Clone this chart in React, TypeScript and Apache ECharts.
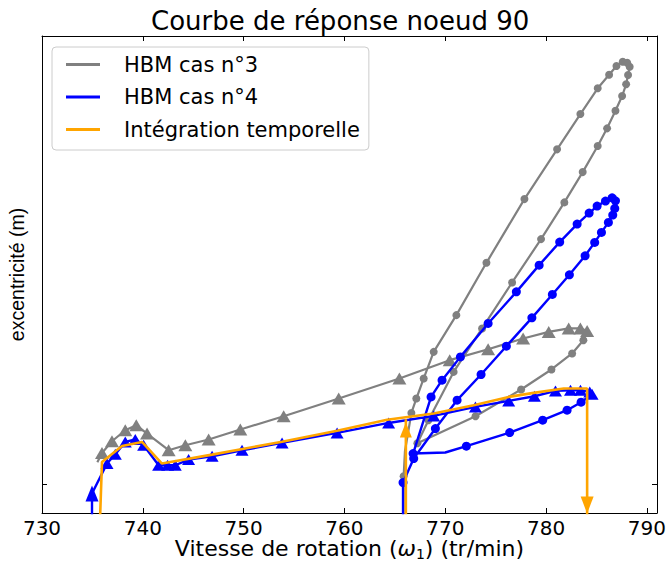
import React, { useEffect, useRef } from "react";
import * as echarts from "echarts";

// ---- axis ticks ----
const xTicks = [730, 740, 750, 760, 770, 780, 790];
const yTicks = [0];

// ---- HBM cas n°3 (gray) : lower branch (triangles) then loop (circles) ----
const g3TriX = [735.49, 735.95, 736.94, 738.26, 739.35, 740.42, 742.56, 744.22, 746.53, 749.67, 753.97, 759.43, 765.45, 770.44, 774.25, 777.72, 780.26, 782.24, 783.40, 784.07];
const g3TriY = [4.7, 6.65, 9.10, 11.41, 12.47, 10.72, 7.22, 8.26, 9.46, 11.56, 14.35, 18.06, 22.26, 26.10, 28.40, 30.65, 32.03, 32.75, 32.75, 32.24];
const g3CircX = [783.70, 782.58, 780.53, 777.52, 773.00, 767.23, 768.33, 770.83, 773.65, 776.63, 779.50, 781.81, 783.63, 785.12, 786.05, 786.88, 787.54, 787.94, 788.13, 788.29, 788.04, 787.60, 786.98, 786.25, 785.12, 783.40, 781.09, 777.85, 774.08, 771.10, 768.85, 767.86, 767.13, 766.64, 766.0, 765.87, 765.85];
const g3CircY = [30.29, 27.50, 24.15, 19.95, 14.35, 8.68, 13.51, 23.64, 32.75, 42.40, 51.48, 59.18, 65.53, 70.99, 74.70, 78.39, 81.48, 83.93, 85.88, 87.62, 88.46, 88.67, 87.77, 85.95, 83.09, 77.70, 70.30, 59.87, 46.51, 35.54, 27.84, 22.26, 18.06, 15.04, 7.0, 1.76, -10];
const g3Unmarked = [0, 54];

// ---- HBM cas n°4 (blue) ----
const b4TriX = [734.96, 734.96, 736.45, 737.27, 738.26, 739.25, 740.08, 741.57, 742.46, 743.22, 744.54, 746.87, 749.84, 753.81, 759.27, 764.38, 768.85, 772.99, 776.29, 778.84, 780.93, 782.42, 783.41, 784.33, 784.56];
const b4TriY = [-10, -1.87, 4.43, 6.38, 8.96, 9.46, 8.27, 4.07, 4.07, 4.07, 5.27, 5.96, 7.22, 8.75, 10.85, 12.94, 14.41, 16.30, 17.56, 18.54, 19.66, 19.80, 19.80, 19.45, 18.96];
const b4CircX = [783.47, 782.08, 779.66, 776.39, 772.09, 770.0, 766.81, 768.59, 769.68, 771.50, 774.25, 777.05, 779.31, 781.35, 783.08, 784.27, 785.06, 785.89, 786.55, 786.88, 786.81, 786.61, 786.18, 785.49, 784.82, 783.87, 782.31, 780.62, 778.59, 776.06, 773.55, 771.17, 769.02, 766.87, 765.81, 765.81];
const b4CircY = [17.29, 15.61, 13.51, 10.93, 8.06, 6.74, 6.52, 18.40, 21.90, 26.79, 33.80, 40.42, 46.02, 50.85, 54.63, 56.93, 58.40, 59.45, 60.14, 59.51, 57.92, 56.51, 54.98, 52.88, 50.79, 47.98, 43.99, 39.88, 34.97, 29.03, 23.10, 17.71, 11.77, 5.48, 0.44, -10];
const b4Unmarked = [30];

// ---- Intégration temporelle (orange) ----
const orX = [735.71, 735.95, 737.94, 739.92, 741.90, 746.87, 753.81, 759.27, 764.23, 768.85, 772.82, 776.29, 778.77, 781.75, 783.90, 784.07, 784.07, 784.07];
const orY = [-10, 4.76, 8.12, 8.96, 4.43, 6.3, 9.0, 11.3, 13.6, 14.92, 16.66, 18.40, 19.24, 20.16, 20.16, 20.16, -4.26, -10];
const orDownArrowIdx = 16;
const orJumpX = [766.09, 766.09, 766.09];
const orJumpY = [-10, 11.48, 13.72];
const orUpArrowIdx = 1;

const Y_MIN = -5.94;
const Y_MAX = 94.06;

const GRAY = "#808080";
const BLUE = "#0000ff";
const ORANGE = "#ffa500";

function buildBranch(
  triX: number[], triY: number[], circX: number[], circY: number[],
  unmarked: number[], triSize: number[], circSize: number
) {
  const out: any[] = [];
  triX.forEach((x, i) => {
    const idx = out.length;
    const hidden = triY[i] < Y_MIN || unmarked.includes(idx);
    out.push({ value: [x, triY[i]], symbol: hidden ? "none" : "triangle", symbolSize: triSize });
  });
  circX.forEach((x, i) => {
    const idx = out.length;
    const hidden = circY[i] < Y_MIN || unmarked.includes(idx);
    out.push({ value: [x, circY[i]], symbol: hidden ? "none" : "circle", symbolSize: circSize });
  });
  return out;
}

export default function App() {
  const ref = useRef<HTMLDivElement>(null);
  useEffect(() => {
    if (!ref.current) return;
    const chart = echarts.init(ref.current, undefined, { renderer: "svg" });

    const grayData = buildBranch(g3TriX, g3TriY, g3CircX, g3CircY, g3Unmarked, [14, 12], 8);
    const blueData = buildBranch(b4TriX, b4TriY, b4CircX, b4CircY, b4Unmarked, [13, 11], 9);
    blueData[1].symbolSize = [13, 16];

    const orangeData: any[] = orX.map((x, i) => ({
      value: [x, orY[i]],
      symbol: i === orDownArrowIdx ? "triangle" : "none",
      symbolSize: [13, 17],
      symbolRotate: 180,
    }));
    orangeData.push("-");
    orJumpX.forEach((x, i) => {
      orangeData.push({
        value: [x, orJumpY[i]],
        symbol: i === orUpArrowIdx ? "triangle" : "none",
        symbolSize: [12, 15],
      });
    });

    const axisLineStyle = { color: "#000", width: 1 };
    const xCommon = {
      type: "value",
      min: 730,
      max: 791,
      splitLine: { show: false },
      axisLine: { show: true, onZero: false, lineStyle: axisLineStyle },
      axisTick: { show: true, inside: true, length: 5, customValues: xTicks, lineStyle: axisLineStyle },
    };
    const yCommon = {
      type: "value",
      min: Y_MIN,
      max: Y_MAX,
      splitLine: { show: false },
      axisLine: { show: true, onZero: false, lineStyle: axisLineStyle },
      axisTick: { show: true, inside: true, length: 5, customValues: yTicks, lineStyle: axisLineStyle },
      axisLabel: { show: false },
    };

    const option: any = {
      animation: false,
      backgroundColor: "#fff",
      title: {
        text: "Courbe de réponse noeud 90",
        left: 146,
        top: 3,
        textStyle: { fontFamily: "DejaVu Sans", fontSize: 26, fontWeight: "normal", color: "#000" },
      },
      grid: { left: 42, top: 36, right: 11, bottom: 52, containLabel: false, outerBoundsMode: "none" },
      legend: {
        orient: "vertical",
        left: 52,
        top: 47,
        padding: [7, 9, 10, 14],
        itemWidth: 34,
        itemHeight: 3,
        itemGap: 11.5,
        borderColor: "#cccccc",
        borderWidth: 1,
        borderRadius: 4,
        backgroundColor: "#fff",
        selectedMode: false,
        data: [
          { name: "HBM cas n°3", icon: "rect" },
          { name: "HBM cas n°4", icon: "rect" },
          { name: "Intégration temporelle", icon: "rect" },
        ],
        formatter: (n: string) => "{sp| }" + n,
        textStyle: {
          fontFamily: "DejaVu Sans",
          fontSize: 21,
          lineHeight: 21,
          color: "#000",
          rich: { sp: { width: 19, fontSize: 21 } },
        },
      },
      xAxis: [
        {
          ...xCommon,
          position: "bottom",
          axisLabel: { customValues: xTicks, fontFamily: "DejaVu Sans", fontSize: 20, color: "#000", margin: 5 },
          name: "{a|Vitesse de rotation (}{w|ω}{s|1}{a|) (tr/min)}",
          nameLocation: "middle",
          nameGap: 24,
          nameMoveOverlap: false,
          nameTextStyle: {
            rich: {
              a: { fontFamily: "DejaVu Sans", fontSize: 22, color: "#000", lineHeight: 22 },
              w: { fontFamily: "DejaVu Sans", fontStyle: "italic", fontSize: 22, color: "#000", lineHeight: 22 },
              s: { fontFamily: "DejaVu Sans", fontSize: 14, color: "#000", lineHeight: 14, padding: [12, 0, 0, 0] },
            },
          },
        },
        { ...xCommon, position: "top", axisLabel: { show: false } },
      ],
      yAxis: [
        {
          ...yCommon,
          position: "left",
          name: "excentricité (m)",
          nameLocation: "middle",
          nameRotate: 90,
          nameGap: 15,
          nameTextStyle: { fontFamily: "Liberation Sans", fontSize: 19.5, color: "#000" },
        },
        { ...yCommon, position: "right" },
      ],
      series: [
        {
          name: "HBM cas n°3",
          type: "line",
          data: grayData,
          color: GRAY,
          showAllSymbol: true,
          lineStyle: { color: GRAY, width: 2.2 },
          itemStyle: { color: GRAY },
          clip: true,
          z: 2,
        },
        {
          name: "HBM cas n°4",
          type: "line",
          data: blueData,
          color: BLUE,
          showAllSymbol: true,
          lineStyle: { color: BLUE, width: 2.4 },
          itemStyle: { color: BLUE },
          clip: true,
          z: 3,
        },
        {
          name: "Intégration temporelle",
          type: "line",
          data: orangeData,
          color: ORANGE,
          showAllSymbol: true,
          connectNulls: false,
          lineStyle: { color: ORANGE, width: 2.6 },
          itemStyle: { color: ORANGE },
          clip: true,
          z: 4,
        },
      ],
    };
    chart.setOption(option);
    return () => chart.dispose();
  }, []);

  return (
    <div
      ref={ref}
      style={{ position: "absolute", left: 0, top: 0, width: 668, height: 565 }}
    />
  );
}
